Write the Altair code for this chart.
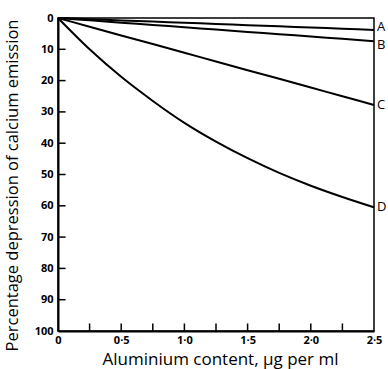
import altair as alt
import pandas as pd

x_vals = [0, 0.25, 0.5, 0.75, 1.0, 1.25, 1.5, 1.75, 2.0, 2.25, 2.5]
curve_a = [0, 0.38, 0.76, 1.14, 1.52, 1.9, 2.28, 2.66, 3.04, 3.42, 3.8]
curve_b = [0, 0.74, 1.48, 2.22, 2.96, 3.7, 4.44, 5.18, 5.92, 6.66, 7.4]
curve_c = [0, 2.8, 5.6, 8.3, 11.1, 13.9, 16.7, 19.4, 22.2, 25.0, 27.8]
curve_d = [0, 10.0, 18.8, 26.5, 33.5, 39.5, 44.8, 49.5, 53.6, 57.2, 60.5]
series_names = ["A", "B", "C", "D"]
label_shift = [-3, 4, 0, 0]

x_ticks = [0, 0.25, 0.5, 0.75, 1.0, 1.25, 1.5, 1.75, 2.0, 2.25, 2.5]
y_ticks = [0, 10, 20, 30, 40, 50, 60, 70, 80, 90, 100]

FONT = "Open Sans"

rows = []
for name, vals in zip(series_names, [curve_a, curve_b, curve_c, curve_d]):
    for xv, yv in zip(x_vals, vals):
        rows.append({"series": name, "x": xv, "y": yv})
df = pd.DataFrame(rows)
ends = df[df["x"] == 2.5].copy()

xs = alt.Scale(domain=[0, 2.5], nice=False, zero=False)
ys = alt.Scale(domain=[0, 100], reverse=True, nice=False)

x_axis = alt.Axis(
    values=x_ticks,
    ticks=False,
    grid=False,
    labelOverlap=False,
    labelExpr="datum.value == 0 ? '0' : (datum.value * 2 == floor(datum.value * 2) ? replace(format(datum.value, '.1f'), '.', '·') : '')",
    labelFont=FONT, labelFontSize=11, labelFontWeight="bold", labelColor="black",
    labelPadding=3, labelFlush=False,
    domainColor="black", domainWidth=2,
    title="Aluminium content, μg per ml",
    titleFont=FONT, titleFontSize=17, titleFontWeight="normal", titleColor="black",
    titleX=162, titleY=28, titleBaseline="middle", titleAlign="center",
)
y_axis = alt.Axis(
    values=y_ticks,
    ticks=False,
    grid=False,
    labelOverlap=False,
    labelFont=FONT, labelFontSize=11, labelFontWeight="bold", labelColor="black",
    labelPadding=5,
    domainColor="black", domainWidth=2,
    title="Percentage depression of calcium emission",
    titleFont=FONT, titleFontSize=16.5, titleFontWeight="normal", titleColor="black",
    titleAngle=-90, titleX=-46, titleY=167, titleBaseline="middle", titleAlign="center",
)

lines = alt.Chart(df).mark_line(color="black", strokeWidth=2, interpolate="monotone").encode(
    x=alt.X("x:Q", scale=xs, axis=x_axis),
    y=alt.Y("y:Q", scale=ys, axis=y_axis),
    detail="series:N",
)

label_layers = []
for name, shift in zip(series_names, label_shift):
    label_layers.append(
        alt.Chart(ends[ends["series"] == name]).mark_text(
            align="left", baseline="middle", dx=3, dy=shift,
            font=FONT, fontSize=13, color="black"
        ).encode(
            x=alt.X("x:Q", scale=xs, axis=x_axis),
            y=alt.Y("y:Q", scale=ys, axis=y_axis),
            text="series:N",
        )
    )

xt = pd.DataFrame({"x": x_ticks[1:-1]})
xtick_marks = alt.Chart(xt).mark_rule(color="black", strokeWidth=1.5).encode(
    x=alt.X("x:Q", scale=xs, axis=x_axis),
    y=alt.datum(100, scale=ys, axis=y_axis),
    y2=alt.datum(97.6),
)
yt = pd.DataFrame({"y": y_ticks[1:-1]})
ytick_marks = alt.Chart(yt).mark_rule(color="black", strokeWidth=1.5).encode(
    y=alt.Y("y:Q", scale=ys, axis=y_axis),
    x=alt.datum(0, scale=xs, axis=x_axis),
    x2=alt.datum(0.06),
)

chart = alt.layer(lines, xtick_marks, ytick_marks, *label_layers).properties(
    width=316, height=313,
    autosize=alt.AutoSizeParams(type="none"),
    padding={"left": 58, "top": 18, "right": 14, "bottom": 38},
    background="white",
).configure_view(stroke="black", strokeWidth=1.5)

chart.save("out.html", embed_options={"renderer": "svg", "actions": False})
